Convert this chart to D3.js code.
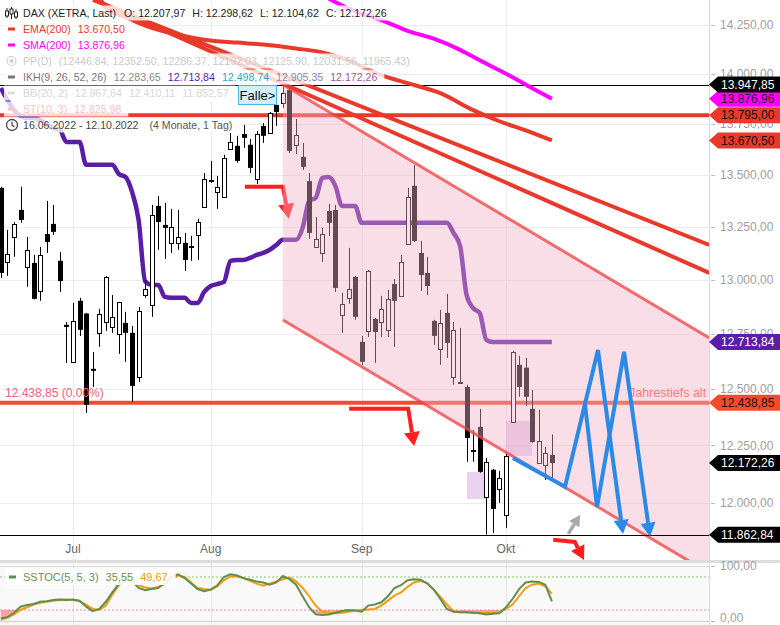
<!DOCTYPE html>
<html><head><meta charset="utf-8">
<script src="https://cdn.jsdelivr.net/npm/d3@7"></script>
<style>
body{margin:0;background:#fff}
svg{display:block}
text{font-family:"Liberation Sans",Arial,sans-serif}
</style></head>
<body><svg id="c" width="780" height="625"></svg>
<script>
// ---------------- DATA ----------------
const dates = ["2022-06-16","2022-06-17","2022-06-20","2022-06-21","2022-06-22","2022-06-23","2022-06-24","2022-06-27","2022-06-28","2022-06-29","2022-06-30",
"2022-07-01","2022-07-04","2022-07-05","2022-07-06","2022-07-07","2022-07-08","2022-07-11","2022-07-12","2022-07-13","2022-07-14","2022-07-15","2022-07-18","2022-07-19","2022-07-20","2022-07-21","2022-07-22","2022-07-25","2022-07-26","2022-07-27","2022-07-28","2022-07-29",
"2022-08-01","2022-08-02","2022-08-03","2022-08-04","2022-08-05","2022-08-08","2022-08-09","2022-08-10","2022-08-11","2022-08-12","2022-08-15","2022-08-16","2022-08-17","2022-08-18","2022-08-19","2022-08-22","2022-08-23","2022-08-24","2022-08-25","2022-08-26","2022-08-29","2022-08-30","2022-08-31",
"2022-09-01","2022-09-02","2022-09-05","2022-09-06","2022-09-07","2022-09-08","2022-09-09","2022-09-12","2022-09-13","2022-09-14","2022-09-15","2022-09-16","2022-09-19","2022-09-20","2022-09-21","2022-09-22","2022-09-23","2022-09-26","2022-09-27","2022-09-28","2022-09-29","2022-09-30",
"2022-10-03","2022-10-04","2022-10-05","2022-10-06","2022-10-07","2022-10-10","2022-10-11","2022-10-12"];
const opens  = [13439,13086,13204,13333,13062,13081,12950,13218,13266,13091,12793,12624,12904,12845,12592,12756,12806,12783,12751,12802,12756,12556,12931,12885,13352,13261,13176,13176,13176,13157,13213,13348,13477,13420,13396,13629,13644,13702,13649,13482,13742,13707,13846,13856,13921,13649,13590,13472,13157,13128,13328,13333,12839,12918,13015,12715,12765,12820,12806,12769,12982,12927,13171,13449,13128,13034,12811,12683,12848,12556,12529,12510,12230,12332,12025,12143,12060,11947,12354,12610,12597,12412,12173,12165,12207.97];
const highs  = [13444,13237,13275,13444,13204,13119,13157,13376,13357,13133,12806,12894,12918,12848,12669,12867,13020,12931,12899,12853,12788,12876,13001,13357,13400,13367,13338,13333,13223,13209,13290,13511,13570,13497,13600,13707,13693,13747,13678,13717,13756,13811,13866,13947.85,13931,13776,13658,13511,13299,13247,13362,13357,12941,13152,13020,12742,13048,12825,12927,12955,13006,13119,13439,13550,13185,13110,12816,12862,12936,12806,12779,12520,12318,12412,12195,12147,12138,12213,12674,12651,12642,12497,12408,12243,12298.62];
const lows   = [13010,13020,13110,13271,12969,12910,12904,13128,13214,12945,12619,12620,12742,12394,12510,12692,12765,12756,12660,12624,12443,12533,12918,12830,13143,13100,13128,13143,13043,13091,13095,13343,13463,13338,13395,13624,13561,13634,13511,13458,13658,13705,13742,13831,13609,13604,13526,13195,13155,13086,13209,12945,12756,12890,12816,12610,12737,12619,12737,12737,12692,12925,13170,13180,12950,12931,12701,12610,12642,12520,12525,12178,12178,12130,11862.84,11870,11999,11892,12350,12466,12426,12261,12170,12099,12104.62];
const closes = [13034,13124,13266,13285,13143,12913,13119,13180,13228,12996,12783,12811,12770,12430,12583,12844,13015,12830,12897,12756,12515,12857,12959,13309,13275,13247,13251,13204,13095,13162,13275,13482,13468,13444,13585,13663,13570,13683,13536,13702,13693,13806,13811,13906,13619,13697,13541,13223,13195,13218,13271,12964,12889,12959,12830,12624,13043,12760,12867,12913,12904,13086,13396,13185,13024,12973,12742,12802,12710,12769,12533,12283,12221,12134,12178,11973,12108,12204,12669,12510,12466,12265,12270,12217,12172.26];

// IKH line (one value per trading day)
const ikh = [13931,13871,13821,13791,13781,13781,13771,13751,13732,13722,13663,13663,13663,13551,13551,13551,13551,13551,13506,13492,13420,13285,12995,12978,12978,12922,12918,12918,12918,12894,12894,12945,12973,12982,12992,13091,13095,13095,13105,13119,13128,13143,13166,13190,13190,13190,13247,13376,13391,13487,13492,13449,13352,13352,13352,13271,13271,13271,13271,13271,13271,13271,13271,13271,13271,13271,13271,13271,13271,13223,13162,12931,12870,12848,12724,12713.84,12713.84,12713.84,12713.84,12713.84,12713.84,12713.84,12713.84,12713.84,12713.84];

// EMA(200) / SMA(200) read at day positions
const emaDay = [15,16,19,23,27,31,36,40,45,49,53,58,62,67,72,76,80,84];
const emaVal = [14395,14340,14290,14235,14200,14175,14160,14150,14130,14110,14070,13995,13955,13905,13820,13765,13720,13670.50];
const smaDay = [50,54,58,62,66,70,73,78,81,84];
const smaVal = [14385,14320,14275,14220,14180,14123,14070,13985,13930,13876.96];

// Slow stochastic (5,5,3)
const stochK = [5,7,15,26,29,31,35,36,38,39,38,39,37,26,18,22,35,52,68,78,72,60,56,58,60,70,80,85,78,68,58,54,57,65,80,85,83,78,75,72,70,66,70,82,76,66,45,25,12,11,12,15,18,20,19,17,28,30,34,45,60,65,74,76,75,68,57,40,22,17,16,16,15,14,12,13,14,25,40,58,70,72,71,66,35.55];
const stochD = [2,6,12,20,25,30,33,35,37,38,39,38,36,30,22,20,28,48,65,72,70,65,61,59,62,67,75,83,80,70,60,58,57,63,74,81,81,78,73,68,64,68,72,76,79,72,60,45,28,17,15,14,15,17,19,20,21,22,28,37,46,52,62,70,73,69,57,44,30,18,16,16,15,15,15,15,16,22,30,45,60,66,68,63,49.67];

// axis ticks
const priceTicks = [14250,14000,13750,13500,13250,13000,12750,12500,12250,12000];
const monthLabels = ["Jul","Aug","Sep","Okt"];
const monthDates  = ["2022-07-01","2022-08-01","2022-09-01","2022-10-03"];
const stochTicks = [100,0];

// drawings (day position, price); positions beyond the last candle are future days
const trendA = [[14.05,14379],[108,13166]];
const trendB = [[14.35,14379],[108,13034]];
const channelUpper = [[43,13947.85],[108,12733]];
const channelLower = [[43,12815],[108,11700]];
const redLevels = [13795,12438.85];
const blackLevels = [13947.85,11862.84];
const arrowRed1 = [[37.2,13444],[43.0,13444],[43.9,13290]];
const arrowRed2 = [[53.1,12412],[62.1,12412],[63.0,12247]];
const arrowRed3 = [[84.2,11841],[87.5,11832],[88.9,11755]];
const arrowGray = [[86.5,11866],[88.3,11948]];
const bluePath1 = [[78.07,12195],[86.0,12069],[91.03,12678],[94.84,11866]];
const bluePath2 = [[89.05,12430],[90.88,11982],[95.0,12669],[98.96,11854]];
const boxDays = [[71.06,73.96],[77.0,80.97]];
const boxPrices = [[12133,12016],[12359,12204]];

// price tags on the right axis
const tagValues = [13876.96,13947.85,13795,13670.50,12713.84,12438.85,12172.26,11862.84];
const tagBg = ["#ff00ff","#000000","#e8392b","#e8392b","#5b1fa5","#f94a26","#000000","#000000"];
const tagFg = ["#222","#fff","#111","#111","#fff","#111","#fff","#fff"];

// ---------------- CHART ----------------
const svg = d3.select("#c");
const plotR = 709;
const x = d3.scaleLinear().domain([0,108]).range([0.84, 709.32]);
const y = d3.scaleLog().domain([12000,14250]).range([502.7,25]);
const ys = d3.scaleLinear().domain([0,100]).range([621,566]);
const de = d3.formatLocale({decimal:",",thousands:".",grouping:[3],currency:["","€"]});
const fmt = de.format(",.2f");
const idx = d => dates.indexOf(d);

const defs = svg.append("defs");
defs.append("clipPath").attr("id","mainClip").append("rect").attr("x",0).attr("y",0).attr("width",plotR).attr("height",560);
defs.append("clipPath").attr("id","stClip").append("rect").attr("x",0).attr("y",563).attr("width",plotR).attr("height",62);

svg.append("rect").attr("width",780).attr("height",625).attr("fill","#fff");

const main = svg.append("g").attr("clip-path","url(#mainClip)");

// grid
main.selectAll(".hg").data(priceTicks).join("line")
  .attr("x1",0).attr("x2",plotR).attr("y1",d=>Math.round(y(d))+0.5).attr("y2",d=>Math.round(y(d))+0.5)
  .attr("stroke","#ececec");
main.selectAll(".vg").data(monthDates).join("line")
  .attr("x1",d=>Math.round(x(idx(d)))+0.5).attr("x2",d=>Math.round(x(idx(d)))+0.5).attr("y1",0).attr("y2",560)
  .attr("stroke","#ececec");

// lavender boxes
boxDays.forEach((bd,k)=>{
  main.append("rect").attr("x",x(bd[0])).attr("width",x(bd[1])-x(bd[0]))
    .attr("y",y(boxPrices[k][0])).attr("height",y(boxPrices[k][1])-y(boxPrices[k][0]))
    .attr("fill","#c98fd6").attr("opacity",0.4);
});

// red horizontal levels
main.selectAll(".rl").data(redLevels).join("line")
  .attr("x1",0).attr("x2",plotR).attr("y1",d=>y(d)).attr("y2",d=>y(d))
  .attr("stroke",(d,i)=>i===0?"#e8392b":"#f24b30").attr("stroke-width",4);

// IKH line
main.append("path").datum(ikh)
  .attr("d",d3.line().x((d,i)=>x(i)).y(d=>y(d)).curve(d3.curveMonotoneX))
  .attr("fill","none").attr("stroke","#5a1da6").attr("stroke-width",4.5).attr("stroke-linejoin","round");

// candles
const cg = main.append("g");
dates.forEach((d,i)=>{
  const cx = Math.round(x(i));
  const o=opens[i], c=closes[i], h=highs[i], l=lows[i];
  cg.append("line").attr("x1",cx+0.5).attr("x2",cx+0.5).attr("y1",y(h)).attr("y2",y(l)).attr("stroke","#000").attr("stroke-width",1);
  const top = y(Math.max(o,c)), bot = y(Math.min(o,c));
  if (c >= o) {
    cg.append("rect").attr("x",cx-1.5).attr("width",4).attr("y",Math.round(top)+0.5).attr("height",Math.max(1,Math.round(bot-top)))
      .attr("fill","#fff").attr("stroke","#000").attr("stroke-width",1);
  } else {
    cg.append("rect").attr("x",cx-2).attr("width",5).attr("y",top).attr("height",Math.max(1.5,bot-top)).attr("fill","#000");
  }
});

function arrow(g, pts, color, width, headLen, headW){
  const P = pts.map(p=>[x(p[0]),y(p[1])]);
  const n=P.length, T=P[n-1], S=P[n-2];
  const dx=T[0]-S[0], dy=T[1]-S[1], L=Math.hypot(dx,dy), ux=dx/L, uy=dy/L;
  const B=[T[0]-ux*headLen, T[1]-uy*headLen];
  g.append("path").attr("d",d3.line()(P.slice(0,n-1).concat([B])))
    .attr("fill","none").attr("stroke",color).attr("stroke-width",width).attr("stroke-linejoin","miter");
  const px=-uy, py=ux;
  g.append("path").attr("d",`M${T[0]},${T[1]}L${B[0]+px*headW/2},${B[1]+py*headW/2}L${B[0]-px*headW/2},${B[1]-py*headW/2}Z`).attr("fill",color);
}

arrow(main, arrowRed1, "#ff1f1f", 4, 15, 16);
arrow(main, arrowRed2, "#ff1f1f", 4, 14, 16);
arrow(main, arrowRed3, "#ff1f1f", 4, 14, 15);

// pink channel
const chPoly = [channelUpper[0],channelUpper[1],channelLower[1],channelLower[0]].map(p=>[x(p[0]),y(p[1])]);
main.append("path").attr("d","M"+chPoly.map(p=>p.join(",")).join("L")+"Z").attr("fill","rgb(243,176,198)").attr("opacity",0.42);
[channelUpper,channelLower].forEach(ch=>{
  main.append("line").attr("x1",x(ch[0][0])).attr("y1",y(ch[0][1])).attr("x2",x(ch[1][0])).attr("y2",y(ch[1][1]))
    .attr("stroke","#ee4040").attr("stroke-opacity",0.75).attr("stroke-width",3);
});

// black levels
main.selectAll(".bl").data(blackLevels).join("line")
  .attr("x1",0).attr("x2",plotR).attr("y1",d=>Math.round(y(d))+0.5).attr("y2",d=>Math.round(y(d))+0.5)
  .attr("stroke","#000").attr("stroke-width",1);

// trend lines
[trendA,trendB].forEach(t=>{
  main.append("line").attr("x1",x(t[0][0])).attr("y1",y(t[0][1])).attr("x2",x(t[1][0])).attr("y2",y(t[1][1]))
    .attr("stroke","#e8392b").attr("stroke-width",4);
});
// EMA / SMA
main.append("path").datum(emaDay.map((d,i)=>[d,emaVal[i]]))
  .attr("d",d3.line().x(d=>x(d[0])).y(d=>y(d[1])).curve(d3.curveMonotoneX))
  .attr("fill","none").attr("stroke","#e8392b").attr("stroke-width",4);
main.append("path").datum(smaDay.map((d,i)=>[d,smaVal[i]]))
  .attr("d",d3.line().x(d=>x(d[0])).y(d=>y(d[1])).curve(d3.curveMonotoneX))
  .attr("fill","none").attr("stroke","#ff00ff").attr("stroke-width",4);

// gray arrow
arrow(main, arrowGray, "#a9a9a9", 3.5, 11, 12);

// texts
main.append("text").attr("x",5).attr("y",y(12438.85)-10).attr("dy","0.35em")
  .attr("fill","#ef5f80").style("font-size","12px").text(fmt(12438.85)+" (0.00%)");
main.append("text").attr("x",629).attr("y",y(12438.85)-10).attr("dy","0.35em")
  .attr("fill","#f47b7b").style("font-size","12.5px").text("Jahrestiefs alt");

// blue projections
arrow(main, bluePath1, "#2a8ae6", 4, 14, 15);
arrow(main, bluePath2, "#2a8ae6", 4, 14, 15);

// x labels
main.selectAll(".xl").data(monthDates).join("text")
  .attr("x",d=>x(idx(d))).attr("y",549).attr("dy","0.35em").attr("text-anchor","middle")
  .attr("fill","#666").style("font-size","12px").text((d,i)=>monthLabels[i]);

// legend
function legendRow(cy, iconFn, segs){
  const g = svg.append("g");
  const bg = g.append("rect");
  let cx = 23;
  segs.forEach(s=>{
    const t = g.append("text").attr("x",cx).attr("y",cy).attr("dy","0.35em").attr("fill",s.c)
      .style("font-size","10.6px").text(s.t);
    cx += t.node().getComputedTextLength() + (s.g||7);
  });
  bg.attr("x",4).attr("y",cy-7.5).attr("width",cx-4).attr("height",15).attr("fill","#fff").attr("opacity",0.8);
  iconFn(g,cy);
}
const dash = col => (g,cy)=>g.append("rect").attr("x",8).attr("y",cy-1.5).attr("width",7).attr("height",3).attr("fill",col);
legendRow(13,(g,cy)=>{
  [[7,cy-5,cy+5,cy-2,cy+3],[11.5,cy-6,cy+6,cy-4,cy+1],[16,cy-4,cy+6,cy-1,cy+4]].forEach(a=>{
    g.append("line").attr("x1",a[0]).attr("x2",a[0]).attr("y1",a[1]).attr("y2",a[2]).attr("stroke","#222");
    g.append("rect").attr("x",a[0]-1.5).attr("y",a[3]).attr("width",3).attr("height",a[4]-a[3]).attr("fill","#fff").attr("stroke","#222");
  });
},[{t:"DAX (XETRA, Last)",c:"#222",g:8},{t:"O: "+fmt(12207.97),c:"#222"},{t:"H: "+fmt(12298.62),c:"#222"},{t:"L: "+fmt(12104.62),c:"#222"},{t:"C: "+fmt(12172.26),c:"#222"}]);
legendRow(29,dash("#e8392b"),[{t:"EMA(200)",c:"#e8392b"},{t:fmt(13670.50),c:"#e8392b"}]);
legendRow(45,dash("#ff00ff"),[{t:"SMA(200)",c:"#ff00ff"},{t:fmt(13876.96),c:"#ff00ff"}]);
legendRow(61,(g,cy)=>{
  g.append("circle").attr("cx",11.5).attr("cy",cy).attr("r",4.5).attr("fill","none").attr("stroke","#cfcfcf").attr("stroke-width",1.2);
  g.append("circle").attr("cx",11.5).attr("cy",cy).attr("r",2).attr("fill","#cfcfcf");
},[{t:"PP(D)",c:"#cacaca"},{t:"(12446.84, 12352.50, 12286.37, 12192.03, 12125.90, 12031.56, 11965.43)",c:"#cacaca"}]);
legendRow(77,dash("#777"),[{t:"IKH(9, 26, 52, 26)",c:"#777"},{t:fmt(12283.65),c:"#888"},{t:fmt(12713.84),c:"#5b1fa5"},{t:fmt(12498.74),c:"#2ba6d4"},{t:fmt(12905.35),c:"#8c84a8"},{t:fmt(12172.26),c:"#a0559f"}]);
legendRow(93,dash("#dddddd"),[{t:"BB(20, 2)",c:"#d6d6d6"},{t:fmt(12967.64),c:"#d6d6d6"},{t:fmt(12410.11),c:"#d6d6d6"},{t:fmt(11852.57),c:"#d6d6d6"}]);
legendRow(109,dash("#f9c5c5"),[{t:"ST(10, 3)",c:"#f7c2c2"},{t:fmt(12825.98),c:"#f7c2c2"}]);
legendRow(125,(g,cy)=>{
  g.append("circle").attr("cx",12).attr("cy",cy).attr("r",5.5).attr("fill","none").attr("stroke","#444").attr("stroke-width",1.3);
  g.append("path").attr("d",`M12,${cy-3.5}V${cy}L14.5,${cy+2}`).attr("fill","none").attr("stroke","#444").attr("stroke-width",1.2);
},[{t:"16.06.2022 - 12.10.2022",c:"#444",g:11},{t:"(4 Monate, 1 Tag)",c:"#555"}]);

// Falle box (on top of legend)
const fb = svg.append("g");
const fbx = Math.round(x(36.15))+0.5, fby = Math.round(y(13947.85))+0.5;
fb.append("rect").attr("x",fbx).attr("y",fby).attr("width",38).attr("height",19)
  .attr("fill","#d3f0fa").attr("stroke","#48b4e6").attr("stroke-width",1);
fb.append("text").attr("x",fbx+19).attr("y",fby+9.5).attr("dy","0.35em")
  .attr("text-anchor","middle").attr("fill","#111").style("font-size","13px").text("Falle>");

// separator
svg.append("rect").attr("x",0).attr("y",560).attr("width",780).attr("height",3).attr("fill","#dcdcdc");

// stochastic panel
svg.append("rect").attr("x",0).attr("y",563).attr("width",plotR).attr("height",62).attr("fill","#f9f9f9");
const st = svg.append("g").attr("clip-path","url(#stClip)");
st.selectAll(".sv").data(monthDates).join("line")
  .attr("x1",d=>Math.round(x(idx(d)))+0.5).attr("x2",d=>Math.round(x(idx(d)))+0.5).attr("y1",563).attr("y2",625).attr("stroke","#e6e6e6");
st.append("line").attr("x1",0).attr("x2",plotR).attr("y1",566.5).attr("y2",566.5).attr("stroke","#dedede");
st.append("line").attr("x1",0).attr("x2",plotR).attr("y1",621.5).attr("y2",621.5).attr("stroke","#d0d0d0");
st.append("line").attr("x1",0).attr("x2",plotR).attr("y1",ys(80)).attr("y2",ys(80)).attr("stroke","#8cc66a").attr("stroke-dasharray","2,2");
st.append("line").attr("x1",0).attr("x2",plotR).attr("y1",ys(20)).attr("y2",ys(20)).attr("stroke","#f08a8a").attr("stroke-dasharray","2,2");
st.append("path").datum(stochK)
  .attr("d",d3.area().x((d,i)=>x(i)).y0(ys(20)).y1(d=>ys(Math.min(d,20))))
  .attr("fill","#f07070").attr("opacity",0.6);
st.append("path").datum(stochD).attr("d",d3.line().x((d,i)=>x(i)).y(d=>ys(d)))
  .attr("fill","none").attr("stroke","#f39c12").attr("stroke-width",2);
st.append("path").datum(stochK).attr("d",d3.line().x((d,i)=>x(i)).y(d=>ys(d)))
  .attr("fill","none").attr("stroke","#5f8f4e").attr("stroke-width",2);
// stoch legend
const sl = svg.append("g");
const slbg = sl.append("rect").attr("x",5).attr("y",568).attr("height",17).attr("fill","#fff").attr("opacity",0.9);
sl.append("rect").attr("x",9).attr("y",575.5).attr("width",7).attr("height",3).attr("fill","#5f8f4e");
let sx = 23;
[["SSTOC(5, 5, 3)","#6a9058"],[fmt(35.55),"#6a9058"],[fmt(49.67),"#f0960f"]].forEach(s=>{
  const t = sl.append("text").attr("x",sx).attr("y",577).attr("dy","0.35em").attr("fill",s[1]).style("font-size","11px").text(s[0]);
  sx += t.node().getComputedTextLength()+7;
});
slbg.attr("width",sx-4);

// right axis
svg.append("line").attr("x1",709.5).attr("x2",709.5).attr("y1",0).attr("y2",625).attr("stroke","#d9d9d9");
const ax = svg.append("g");
priceTicks.forEach(v=>{
  const yy = y(v);
  ax.append("line").attr("x1",711).attr("x2",715).attr("y1",Math.round(yy)+0.5).attr("y2",Math.round(yy)+0.5).attr("stroke","#bbb");
  ax.append("text").attr("x",720).attr("y",yy).attr("dy","0.35em").attr("fill","#a0a0a0").style("font-size","12px").text(fmt(v));
});
stochTicks.forEach(v=>{
  const yy = ys(v);
  ax.append("line").attr("x1",711).attr("x2",715).attr("y1",Math.round(yy)+0.5).attr("y2",Math.round(yy)+0.5).attr("stroke","#bbb");
  ax.append("text").attr("x",720).attr("y",Math.min(yy,618)).attr("dy","0.35em").attr("fill","#a0a0a0").style("font-size","12px").text(fmt(v));
});
tagValues.forEach((v,k)=>{
  const yy = y(v);
  ax.append("path").attr("d",`M709,${yy}L718,${yy-8}H780V${yy+8}H718Z`).attr("fill",tagBg[k]);
  ax.append("text").attr("x",721).attr("y",yy).attr("dy","0.35em").attr("fill",tagFg[k]).style("font-size","12px").text(fmt(v));
});
</script>
</body></html>
